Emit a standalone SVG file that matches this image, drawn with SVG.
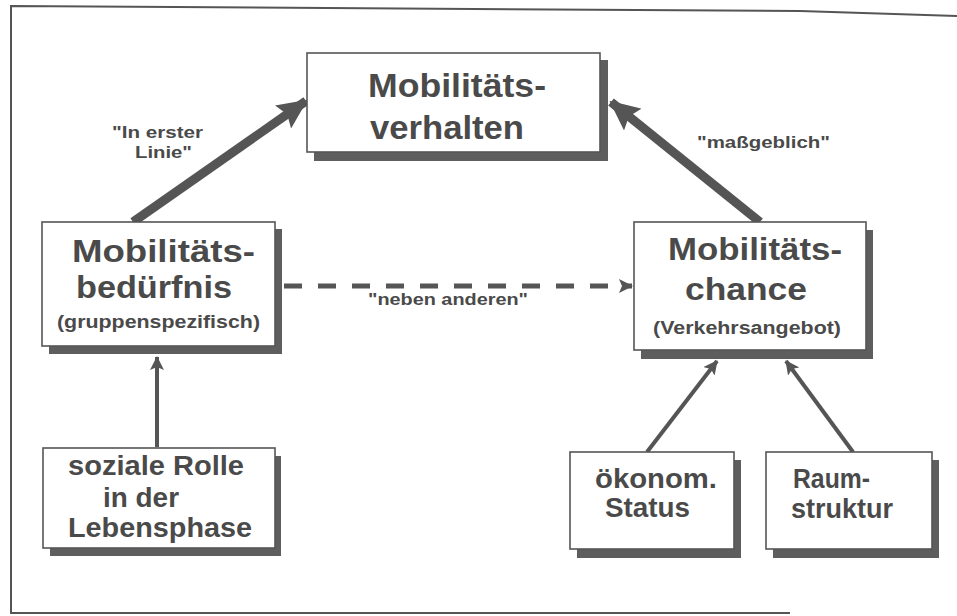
<svg xmlns="http://www.w3.org/2000/svg" width="957" height="616" viewBox="0 0 957 616">
<defs>
<style>
.bg{fill:#ffffff}
.frame{fill:none;stroke:#555;stroke-width:2}
.box{fill:#ffffff;stroke:#555;stroke-width:1.6}
.shadow{fill:#5e5e5e}
.t{font-family:"Liberation Sans",Arial,sans-serif;font-weight:bold;fill:#4a4a4a}
.top{font-size:34px}
.big{font-size:31px}
.mid{font-size:27px}
.sub{font-size:18px}
.lab{font-size:17px}
.thick{stroke:#555;stroke-width:9;fill:none}
.thin{stroke:#555;stroke-width:4;fill:none}
.dash{stroke:#555;stroke-width:5;fill:none;stroke-dasharray:18 16}
</style>
<marker id="ahBig" markerUnits="userSpaceOnUse" markerWidth="30" markerHeight="28" refX="28" refY="14" orient="auto">
<path d="M0,0 L30,14 L0,28 L5,14 z" fill="#555"/>
</marker>
<marker id="ahSmall" markerUnits="userSpaceOnUse" markerWidth="14" markerHeight="14" refX="13" refY="7" orient="auto">
<path d="M0,0 L14,7 L0,14 L3,7 z" fill="#555"/>
</marker>
</defs>
<rect class="bg" x="0" y="0" width="957" height="616"/>
<path class="frame" d="M957,16 L800,11 L11,6 L11,613 L790,613"/>

<g id="connectors">
<line class="thick" x1="133" y1="222" x2="306" y2="101" marker-end="url(#ahBig)"/>
<line class="thick" x1="760" y1="222" x2="611" y2="102" marker-end="url(#ahBig)"/>
<line class="dash" x1="284" y1="286" x2="632" y2="286" marker-end="url(#ahSmall)"/>
<line class="thin" x1="157" y1="447" x2="157" y2="357" marker-end="url(#ahSmall)"/>
<line class="thin" x1="647" y1="452" x2="717" y2="361" marker-end="url(#ahSmall)"/>
<line class="thin" x1="853" y1="452" x2="786" y2="361" marker-end="url(#ahSmall)"/>
<text class="t lab" x="112" y="138" textLength="91" lengthAdjust="spacingAndGlyphs">"In erster</text>
<text class="t lab" x="135" y="158" textLength="57" lengthAdjust="spacingAndGlyphs">Linie"</text>
<text class="t lab" x="697" y="148" textLength="133" lengthAdjust="spacingAndGlyphs">"maßgeblich"</text>
<text class="t lab" x="368" y="305" textLength="160" lengthAdjust="spacingAndGlyphs">"neben anderen"</text>
</g>

<g id="verhalten">
<rect class="shadow" x="314" y="60" width="294" height="101"/>
<rect class="box" x="307" y="53" width="293" height="99"/>
<text class="t top" x="368" y="97" textLength="178" lengthAdjust="spacingAndGlyphs">Mobilitäts-</text>
<text class="t top" x="370" y="139" textLength="154" lengthAdjust="spacingAndGlyphs">verhalten</text>
</g>

<g id="beduerfnis">
<rect class="shadow" x="49" y="229" width="233" height="125"/>
<rect class="box" x="42" y="222" width="233" height="124"/>
<text class="t big" x="72" y="262" textLength="183" lengthAdjust="spacingAndGlyphs">Mobilitäts-</text>
<text class="t big" x="76" y="298" textLength="156" lengthAdjust="spacingAndGlyphs">bedürfnis</text>
<text class="t sub" x="57" y="328" textLength="203" lengthAdjust="spacingAndGlyphs">(gruppenspezifisch)</text>
</g>

<g id="chance">
<rect class="shadow" x="641" y="230" width="232" height="129"/>
<rect class="box" x="634" y="222" width="232" height="128"/>
<text class="t big" x="668" y="260" textLength="174" lengthAdjust="spacingAndGlyphs">Mobilitäts-</text>
<text class="t big" x="685" y="300" textLength="122" lengthAdjust="spacingAndGlyphs">chance</text>
<text class="t sub" x="653" y="334" textLength="188" lengthAdjust="spacingAndGlyphs">(Verkehrsangebot)</text>
</g>

<g id="rolle">
<rect class="shadow" x="50" y="456" width="231" height="100"/>
<rect class="box" x="43" y="448" width="232" height="100"/>
<text class="t mid" x="68" y="475" textLength="176" lengthAdjust="spacingAndGlyphs">soziale Rolle</text>
<text class="t mid" x="103" y="507" textLength="76" lengthAdjust="spacingAndGlyphs">in der</text>
<text class="t mid" x="68" y="537" textLength="184" lengthAdjust="spacingAndGlyphs">Lebensphase</text>
</g>

<g id="status">
<rect class="shadow" x="577" y="460" width="164" height="98"/>
<rect class="box" x="570" y="452" width="164" height="97"/>
<text class="t mid" x="595" y="488" textLength="122" lengthAdjust="spacingAndGlyphs">ökonom.</text>
<text class="t mid" x="605" y="517" textLength="85" lengthAdjust="spacingAndGlyphs">Status</text>
</g>

<g id="raum">
<rect class="shadow" x="773" y="460" width="166" height="98"/>
<rect class="box" x="766" y="452" width="166" height="97"/>
<text class="t mid" x="793" y="488" textLength="77" lengthAdjust="spacingAndGlyphs">Raum-</text>
<text class="t mid" x="791" y="518" textLength="102" lengthAdjust="spacingAndGlyphs">struktur</text>
</g>
</svg>
